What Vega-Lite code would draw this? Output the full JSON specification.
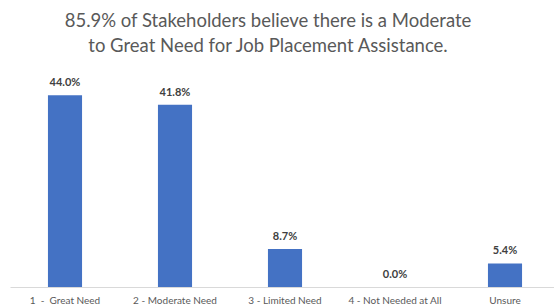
{
  "$schema": "https://vega.github.io/schema/vega-lite/v6.json",
  "width": 550,
  "height": 218,
  "autosize": {"type": "none"},
  "padding": {"left": 10, "top": 69, "right": 0, "bottom": 20},
  "background": "white",
  "title": {
    "text": ["85.9% of Stakeholders believe there is a Moderate", "to Great Need for Job Placement Assistance."],
    "font": "Lato",
    "fontSize": 18.5,
    "fontWeight": "normal",
    "color": "#595959",
    "anchor": "middle",
    "dx": -17,
    "lineHeight": 25,
    "offset": 14
  },
  "data": {
    "values": [
      {"category": "1 \u00a0-\u00a0 Great Need", "pct": 44.0, "label": "44.0%"},
      {"category": "2 - Moderate Need", "pct": 41.8, "label": "41.8%"},
      {"category": "3 - Limited Need", "pct": 8.7, "label": "8.7%"},
      {"category": "4 - Not Needed at All", "pct": 0.0, "label": "0.0%"},
      {"category": "Unsure", "pct": 5.4, "label": "5.4%"}
    ]
  },
  "encoding": {
    "x": {
      "field": "category",
      "type": "nominal",
      "sort": null,
      "scale": {"paddingInner": 0.69, "paddingOuter": 0.345},
      "axis": {
        "title": null,
        "labelAngle": 0,
        "labelFont": "Lato",
        "labelFontSize": 10,
        "labelColor": "#595959",
        "labelPadding": 8,
        "ticks": false,
        "domainColor": "#d9d9d9",
        "domainWidth": 1
      }
    },
    "y": {
      "field": "pct",
      "type": "quantitative",
      "scale": {"domain": [0, 50]},
      "axis": null
    }
  },
  "layer": [
    {"mark": {"type": "bar", "color": "#4472C4"}},
    {
      "mark": {"type": "text", "baseline": "alphabetic", "dy": -9, "font": "Lato", "fontSize": 11, "fontWeight": "bold", "color": "#404040"},
      "encoding": {"text": {"field": "label"}}
    }
  ],
  "config": {"view": {"stroke": null}}
}
